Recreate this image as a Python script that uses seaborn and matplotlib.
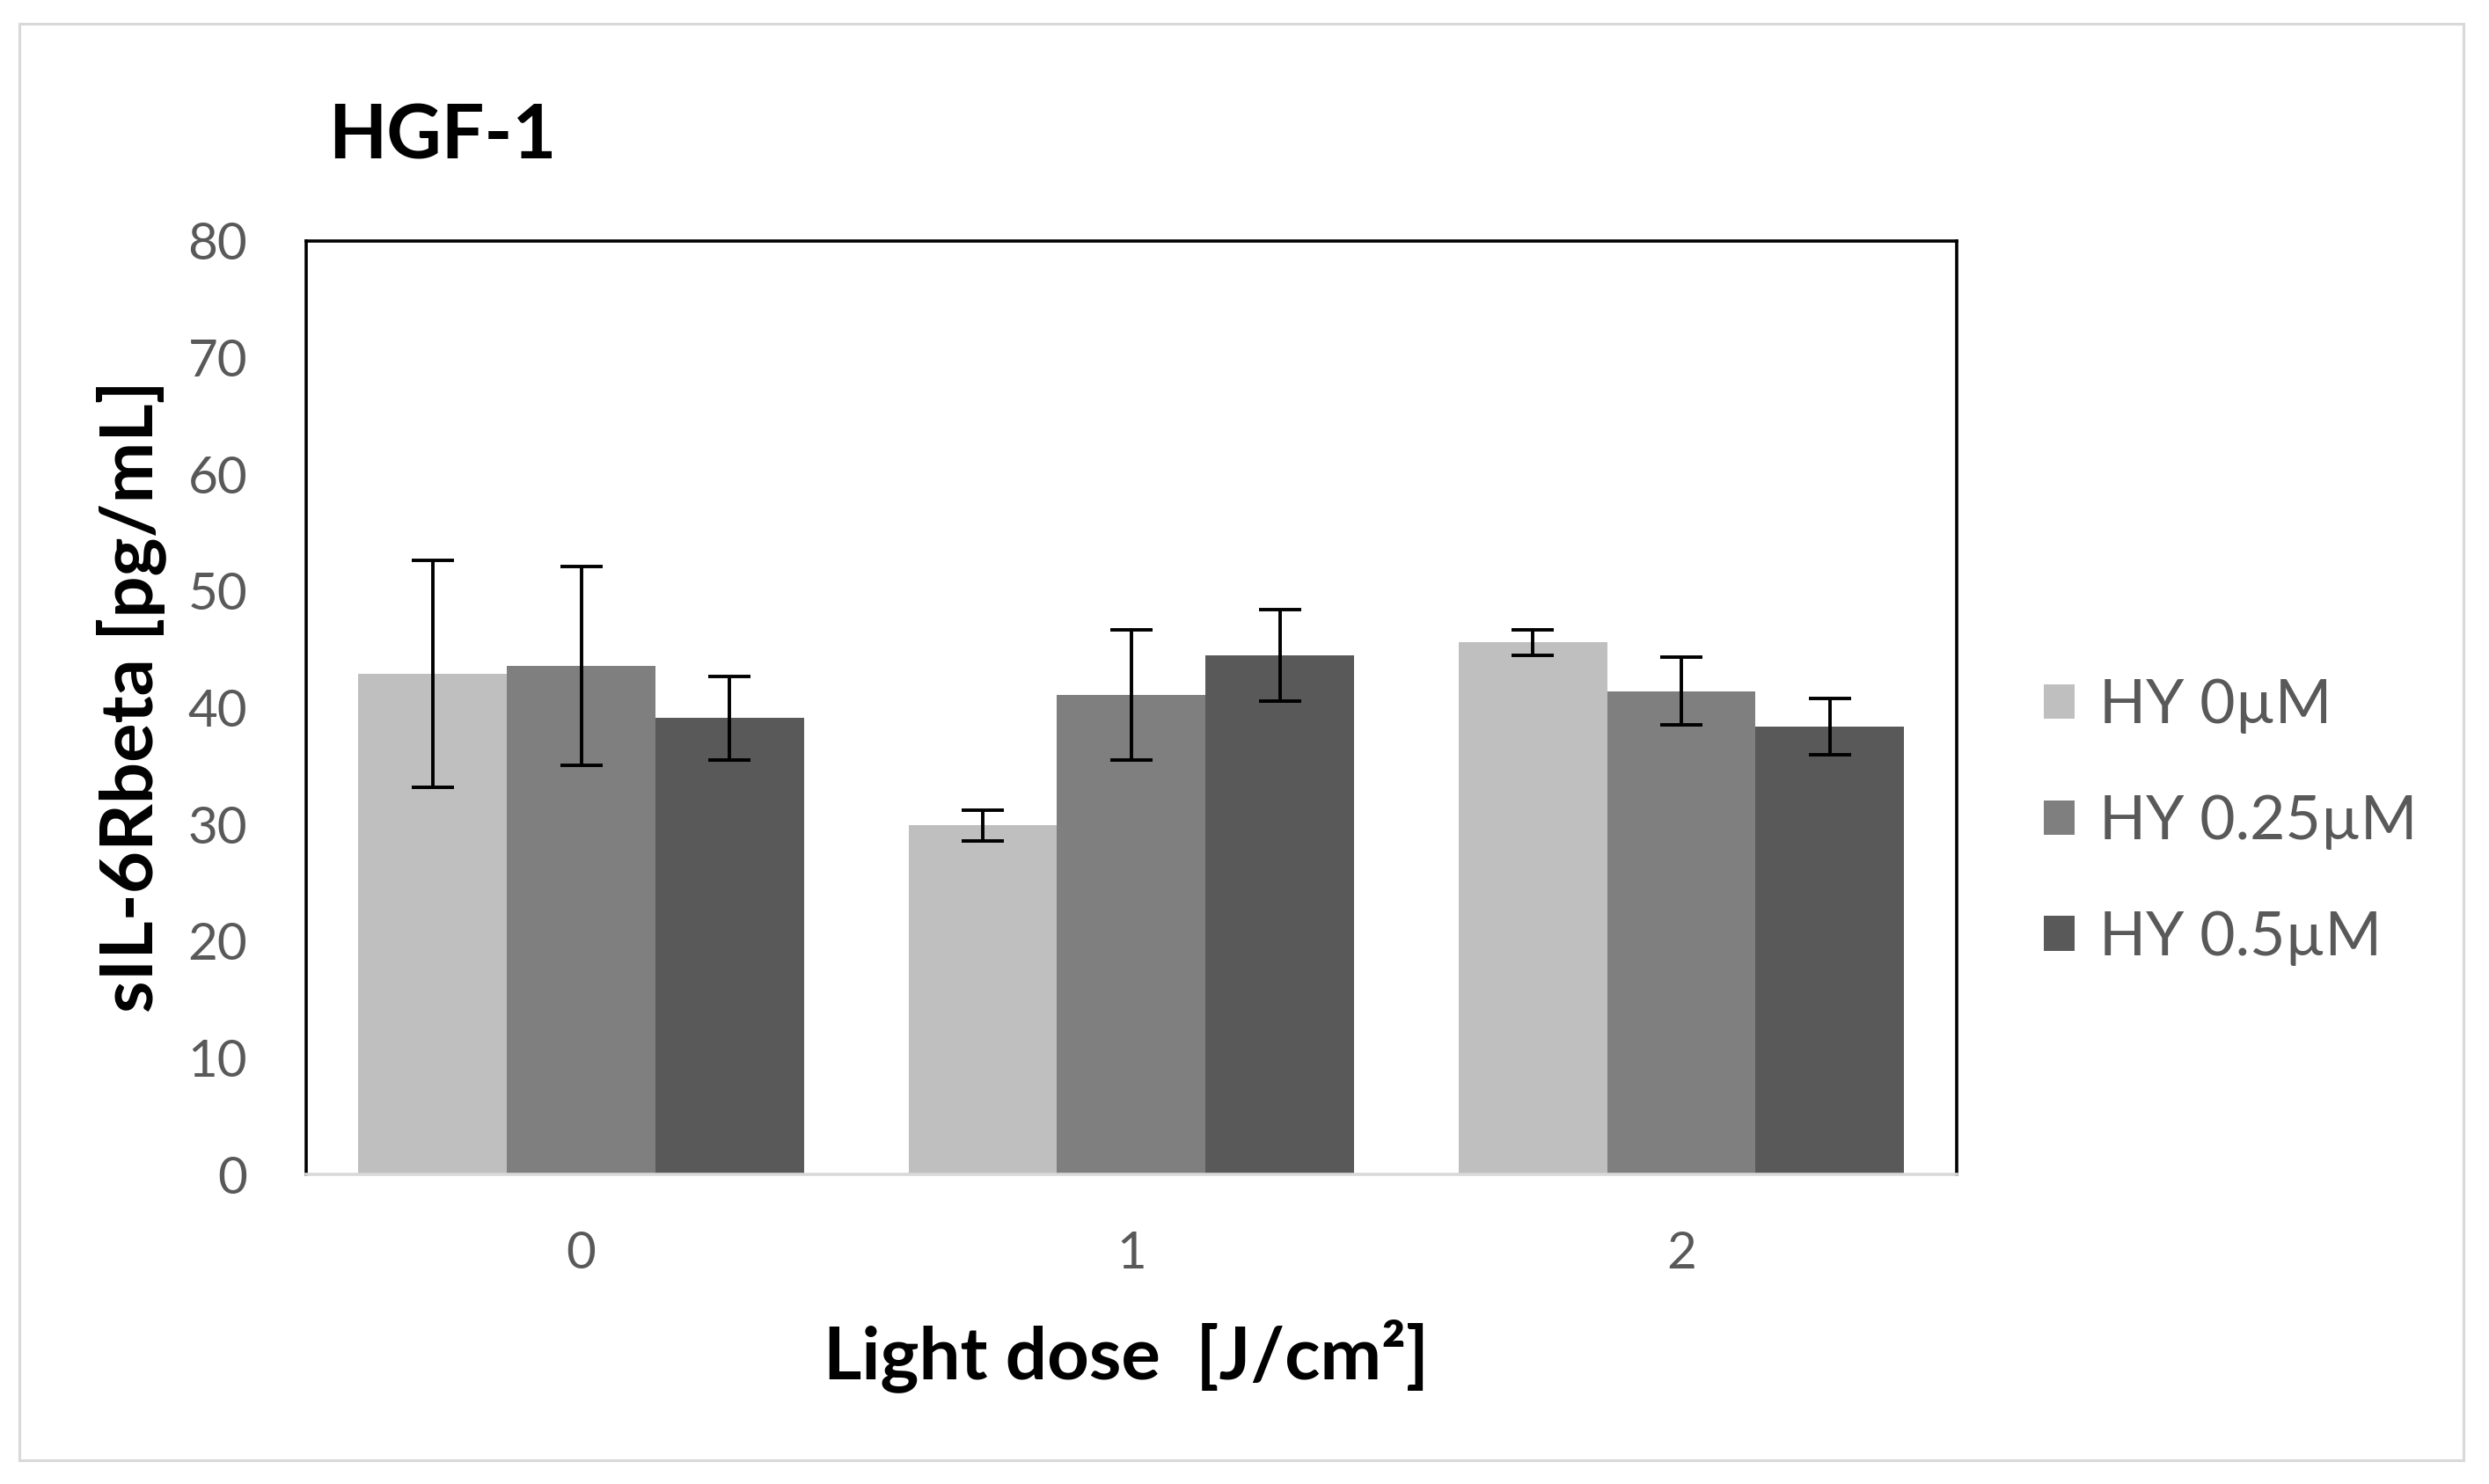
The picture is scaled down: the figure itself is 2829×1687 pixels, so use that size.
import matplotlib
matplotlib.use("Agg")
import matplotlib.pyplot as plt
import seaborn as sns
import pandas as pd
from matplotlib.patches import Rectangle

# --- data ---
doses = ["0", "1", "2"]
groups = ["HY 0µM", "HY 0.25µM", "HY 0.5µM"]
mean_0 = [42.9, 29.9, 45.6]
mean_025 = [43.6, 41.1, 41.4]
mean_05 = [39.1, 44.5, 38.4]
err_0 = [9.7, 1.3, 1.1]
err_025 = [8.5, 5.6, 2.9]
err_05 = [3.6, 3.9, 2.4]
yticks = [0, 10, 20, 30, 40, 50, 60, 70, 80]

colors = ["#bfbfbf", "#7f7f7f", "#595959"]
text_grey = "#595959"

means = [mean_0, mean_025, mean_05]
errs = [err_0, err_025, err_05]
rows = []
for g, vals in zip(groups, means):
    for d, v in zip(doses, vals):
        rows.append({"dose": d, "group": g, "value": v})
df = pd.DataFrame(rows)

sns.set_theme(style="white")
plt.rcParams["font.family"] = ["Lato", "DejaVu Sans"]

fig = plt.figure(figsize=(28.29, 16.87), dpi=100)
ax = fig.add_axes([0.123, 0.2086, 0.663, 0.629])

sns.barplot(data=df, x="dose", y="value", hue="group", order=doses, hue_order=groups,
            palette=colors, width=0.81, gap=0, errorbar=None, saturation=1,
            edgecolor="none", linewidth=0, ax=ax)

# error bars at the bar centres
for cont, e in zip(ax.containers, errs):
    xs = [p.get_x() + p.get_width() / 2 for p in cont]
    ys = [p.get_height() for p in cont]
    ax.errorbar(xs, ys, yerr=e, fmt="none", ecolor="black", elinewidth=2.8,
                capsize=17, capthick=2.8, zorder=5)

ax.set_xlim(-0.5, 2.5)
ax.set_ylim(0, 80)
ax.set_yticks(yticks)
ax.tick_params(axis="both", length=0, labelsize=42, labelcolor=text_grey)
ax.tick_params(axis="y", pad=48)
ax.tick_params(axis="x", pad=46)

for side in ["left", "top", "right"]:
    ax.spines[side].set_color("black")
    ax.spines[side].set_linewidth(2.6)
ax.spines["bottom"].set_color("#d9d9d9")
ax.spines["bottom"].set_linewidth(2.6)

ax.set_xlabel("Light dose  [J/cm²]", fontsize=60, fontweight="bold", color="black", va="center")
ax.xaxis.set_label_coords(0.497, -0.194)
ax.set_ylabel("sIL-6Rbeta [pg/mL]", fontsize=60, fontweight="bold", color="black", va="center")
ax.yaxis.set_label_coords(-0.106, 0.512)

fig.text(0.132, 0.893, "HGF-1", fontsize=62, fontweight="bold", color="black", va="baseline")

handles, labels = ax.get_legend_handles_labels()
leg = fig.legend(handles, labels, loc="center left", bbox_to_anchor=(0.809, 0.446),
                 frameon=False, fontsize=50, labelcolor=text_grey, handlelength=0.5,
                 handleheight=0.5, handletextpad=0.4, labelspacing=0.99, borderpad=0)
ax.get_legend().remove() if ax.get_legend() else None

# thin outer frame
fig.patches.append(Rectangle((0.0077, 0.016), 0.982, 0.968, transform=fig.transFigure,
                             fill=False, edgecolor="#d9d9d9", linewidth=2.2))

fig.savefig("out.png", dpi=100)
plt.close(fig)
